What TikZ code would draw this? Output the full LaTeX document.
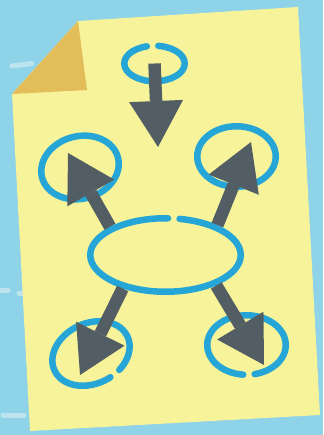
\documentclass[tikz,border=0pt]{standalone}
\usepackage{xcolor}
\usetikzlibrary{shapes.geometric, arrows.meta, positioning}
\definecolor{sky}{HTML}{8ED3E8}
\definecolor{note}{HTML}{F7F39A}
\definecolor{fold}{HTML}{E2BD5A}
\definecolor{ink}{HTML}{25A6D7}
\definecolor{slate}{HTML}{525E63}
\definecolor{streak}{HTML}{BDE3EF}
\tikzset{
  bubble/.style={draw=ink, ellipse, line width=6.5pt, inner sep=0pt, line cap=round},
  gapat/.style={dash pattern=on #1 off 11.5pt on 600pt off 0pt},
  pointer/.style={draw=slate, line width=12.5pt, -{Triangle[width=54pt, length=46pt, line width=0pt]}},
  streakline/.style={draw=streak, line width=5pt, line cap=round}
}

\begin{document}
\begin{tikzpicture}[x=1pt, y=-1pt]
  \useasboundingbox (0,0) rectangle (323,435);
  \fill[sky] (0,0) rectangle (323,435);

  \draw[streakline] (12,66) -- (32,63.5);
  \draw[streakline] (-3,290) -- (8,290);
  \draw[streakline] (19,293) -- (30,293);
  \draw[streakline] (3,415) -- (24,415);

  \fill[note] (78,21) -- (298,7) -- (320,415) -- (30,431) -- (12,94) -- cycle;
  \fill[fold] (78,21) -- (12,94) -- (87,90) -- cycle;

  \node[bubble, gapat=34.5pt, minimum width=60.5pt, minimum height=35.5pt] (top) at (154.5,63.5) {};
  \node[bubble, rotate=15, minimum width=78.5pt, minimum height=62.5pt] (left) at (80,167.5) {};
  \node[bubble, minimum width=78.5pt, minimum height=60.5pt] (right) at (236.5,156.5) {};
  \node[bubble, gapat=76.5pt, minimum width=150.5pt, minimum height=73.5pt] (hub) at (165.5,255) {};
  \node[bubble, gapat=174.5pt, rotate=25, minimum width=80.5pt, minimum height=60.5pt] (lowleft) at (91,353.5) {};
  \node[bubble, gapat=160pt, minimum width=78.5pt, minimum height=59.5pt] (lowright) at (246.5,345) {};

  \coordinate (topend) at (158,147);
  \coordinate (leftend) at (68,153);
  \coordinate (rightend) at (251,142);
  \coordinate (lowleftend) at (80,375);
  \coordinate (lowrightend) at (264,365);

  \draw[pointer] (top.center) -- (topend);
  \draw[pointer] (hub.153) -- (leftend);
  \draw[pointer] (hub.30) -- (rightend);
  \draw[pointer] (hub.218) -- (lowleftend);
  \draw[pointer] (hub.329) -- (lowrightend);
\end{tikzpicture}
\end{document}
